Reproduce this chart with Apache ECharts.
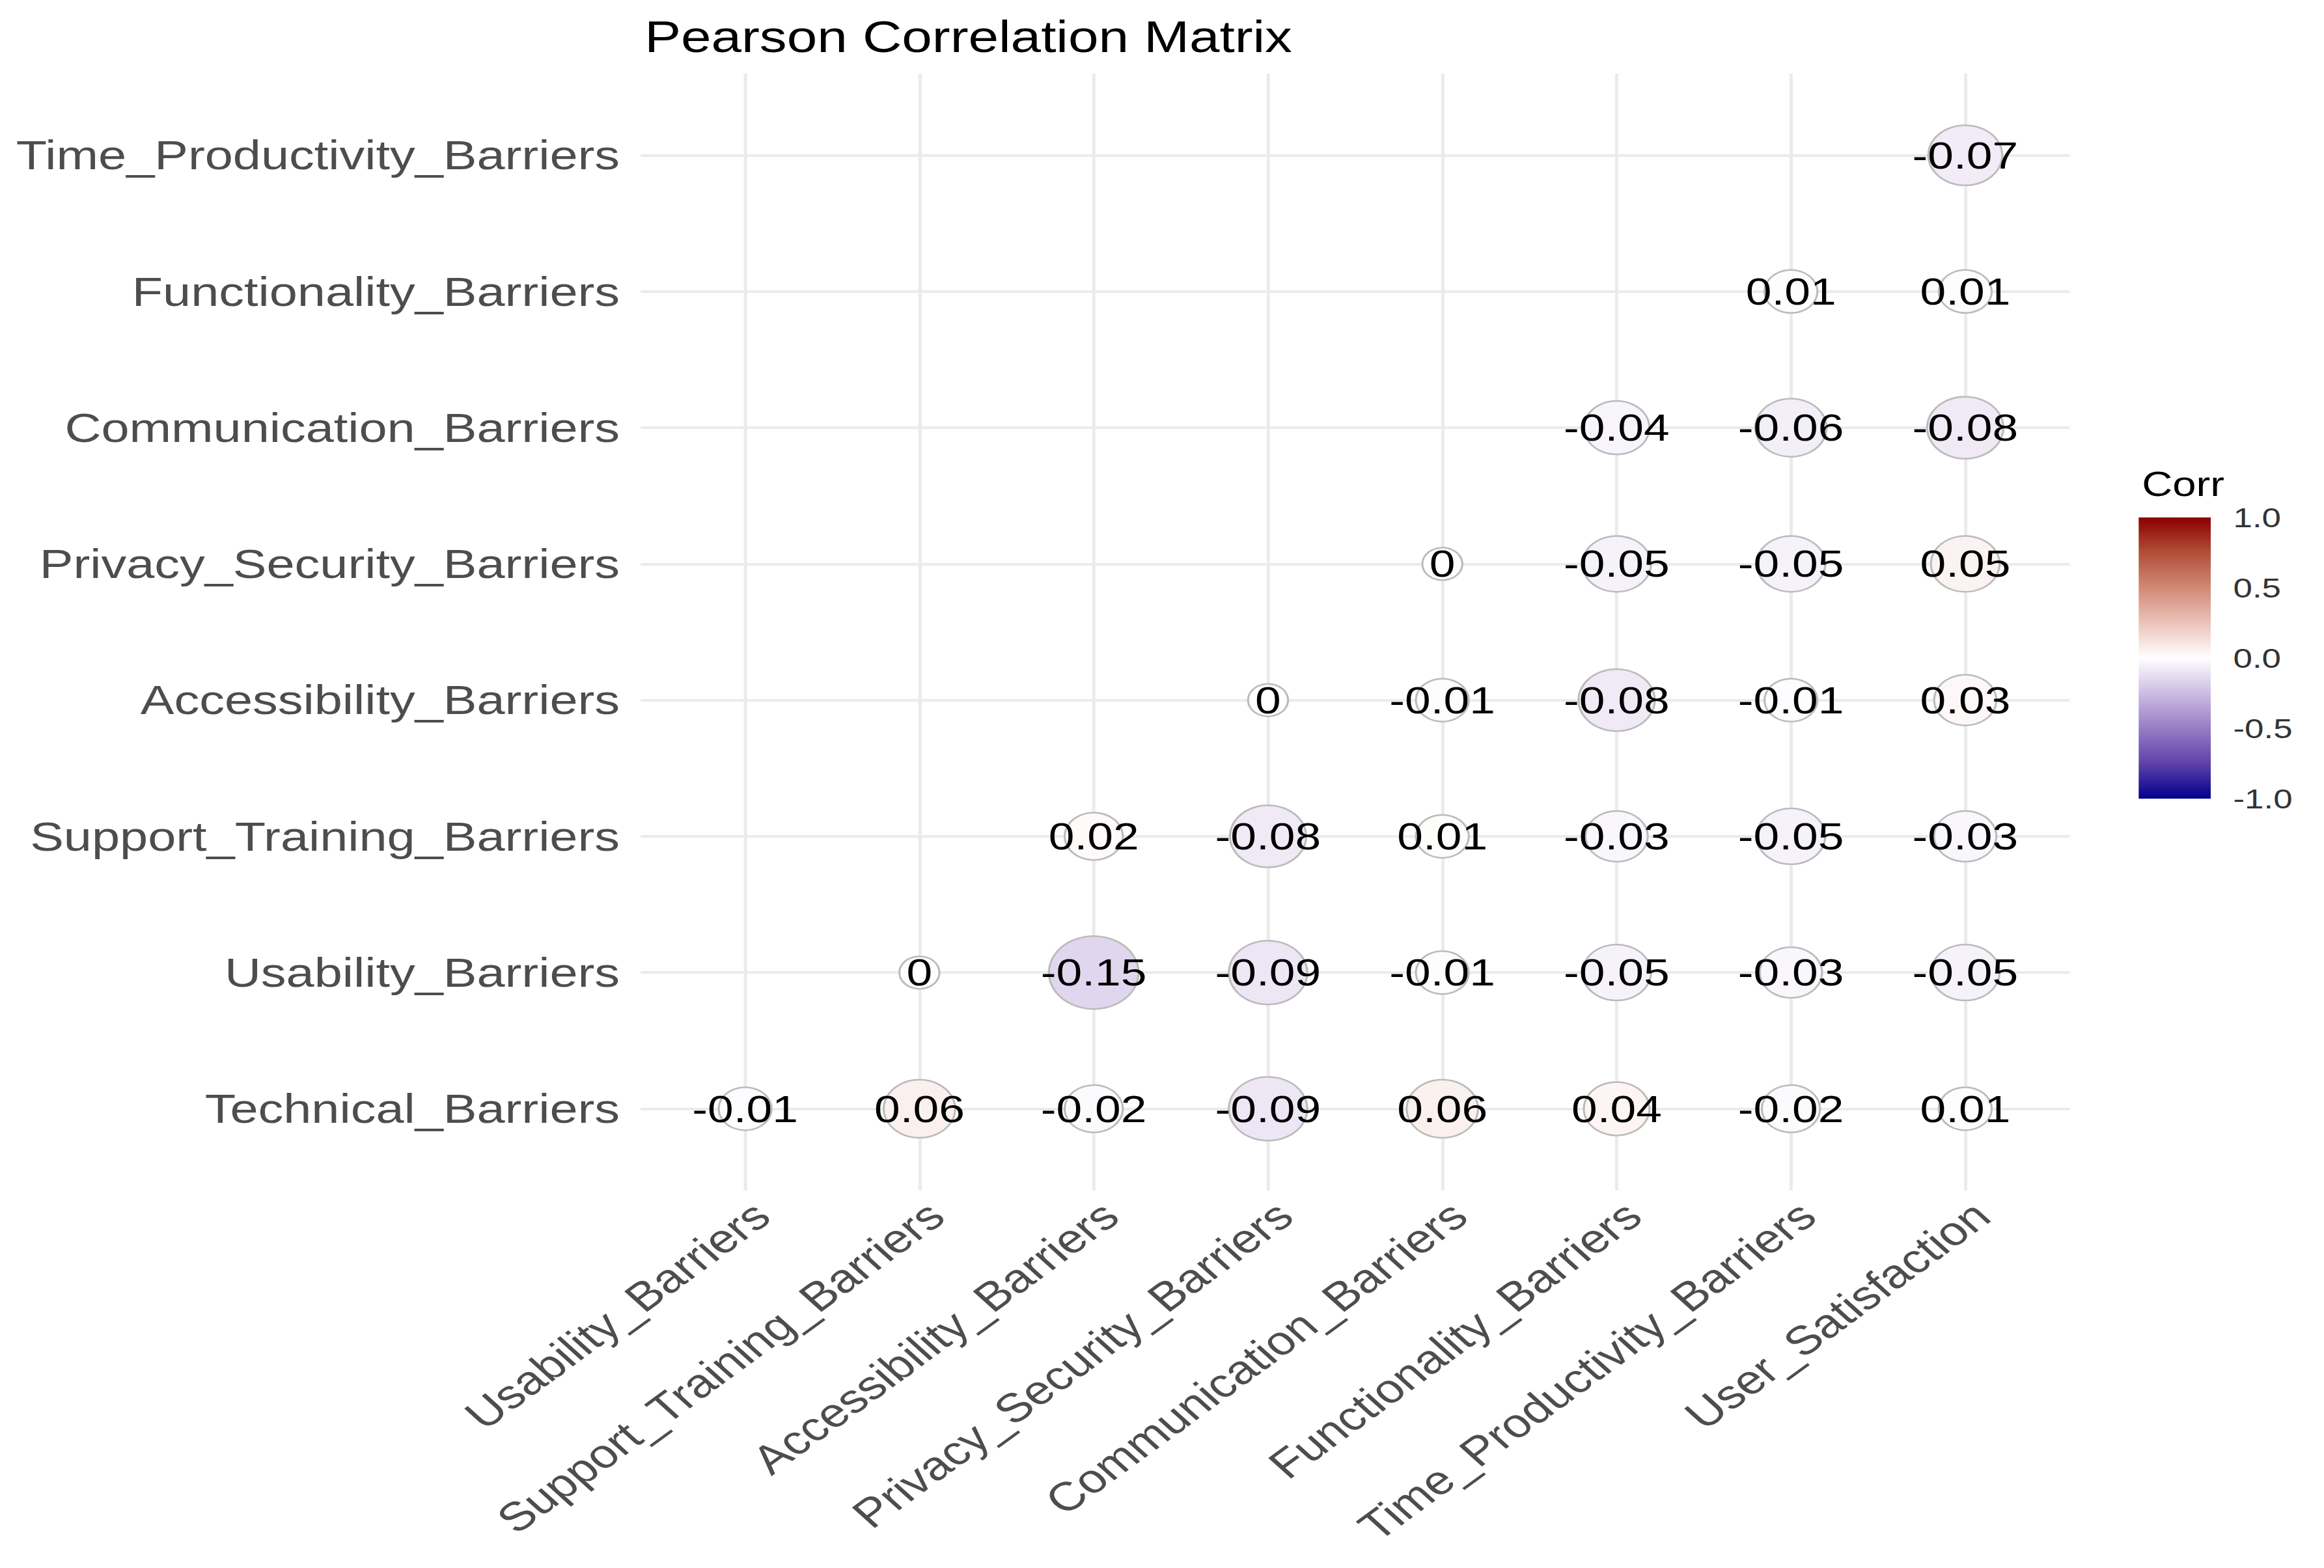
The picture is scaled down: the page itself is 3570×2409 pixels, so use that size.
<!DOCTYPE html>
<html>
<head>
<meta charset="utf-8">
<script src="https://cdn.jsdelivr.net/npm/echarts@6/dist/echarts.min.js"></script>
<style>
  html, body { margin: 0; padding: 0; background: #fff; overflow: hidden; }
  /* the reference is stretched sideways, so the chart is drawn narrow and widened */
  .container {
    width: 2902px;
    height: 2409px;
    transform: scaleX(1.23);
    transform-origin: 0 0;
  }
</style>
</head>
<body>
<div class="container"></div>
<script>
const xCategories = ['Usability_Barriers', 'Support_Training_Barriers', 'Accessibility_Barriers',
    'Privacy_Security_Barriers', 'Communication_Barriers', 'Functionality_Barriers',
    'Time_Productivity_Barriers', 'User_Satisfaction'];
const yCategories = ['Technical_Barriers', 'Usability_Barriers', 'Support_Training_Barriers',
    'Accessibility_Barriers', 'Privacy_Security_Barriers', 'Communication_Barriers',
    'Functionality_Barriers', 'Time_Productivity_Barriers'];

// one row per y category, one value per x category (null = empty cell)
const corrTechnical     = [-0.01, 0.06, -0.02, -0.09, 0.06, 0.04, -0.02, 0.01];
const corrUsability     = [null, 0, -0.15, -0.09, -0.01, -0.05, -0.03, -0.05];
const corrSupport       = [null, null, 0.02, -0.08, 0.01, -0.03, -0.05, -0.03];
const corrAccessibility = [null, null, null, 0, -0.01, -0.08, -0.01, 0.03];
const corrPrivacy       = [null, null, null, null, 0, -0.05, -0.05, 0.05];
const corrCommunication = [null, null, null, null, null, -0.04, -0.06, -0.08];
const corrFunctionality = [null, null, null, null, null, null, 0.01, 0.01];
const corrTime          = [null, null, null, null, null, null, null, -0.07];

const legendTicks = [-1, -0.5, 0, 0.5, 1];
const colorValues = [-1, -0.75, -0.5, -0.25, 0, 0.25, 0.5, 0.75, 1];
const colorList = ['#00008B', '#5F41A9', '#977DC6', '#CCBCE3', '#FFFFFF', '#EBC3B9', '#D18976', '#B14F39', '#8B0000'];

(function () {
    const rows = [corrTechnical, corrUsability, corrSupport, corrAccessibility,
        corrPrivacy, corrCommunication, corrFunctionality, corrTime];
    const font = "'Liberation Sans', Arial, Helvetica, sans-serif";

    const cells = [];
    rows.forEach(function (row, j) {
        row.forEach(function (v, i) {
            if (v !== null) cells.push([i, j, v]);
        });
    });
    const maxAbs = Math.max.apply(null, cells.map(function (c) { return Math.abs(c[2]); }));

    const gradientStops = colorValues.map(function (v, k) {
        return { offset: (1 - v) / 2, color: colorList[k] };
    }).reverse();

    let myChart = echarts.init(document.querySelector('.container'), null, { renderer: 'svg' });

    const option = {
        animation: false,
        backgroundColor: '#fff',
        title: [
            {
                text: 'Pearson Correlation Matrix',
                left: 800,
                top: 17,
                textStyle: { fontFamily: font, fontSize: 68, fontWeight: 'normal', color: '#000' }
            },
            {
                text: 'Corr',
                left: 2670,
                top: 712,
                textStyle: { fontFamily: font, fontSize: 53, fontWeight: 'normal', color: '#000' }
            }
        ],
        grid: [
            { left: 800, right: 317, top: 113, bottom: 580, outerBoundsMode: 'none' },
            { left: 2671, width: 90, top: 795, height: 432, outerBoundsMode: 'none' }
        ],
        xAxis: [
            {
                type: 'value',
                gridIndex: 0,
                min: -0.6,
                max: 7.6,
                axisLine: { show: false },
                axisTick: { show: false },
                splitLine: { show: false },
                axisLabel: {
                    customValues: xCategories.map(function (c, i) { return i; }),
                    formatter: function (v) { return xCategories[Math.round(v)]; },
                    rotate: 42,
                    verticalAlign: 'top',
                    margin: 6,
                    fontFamily: font,
                    fontSize: 62,
                    color: '#4D4D4D'
                }
            },
            {
                type: 'category',
                gridIndex: 1,
                data: ['Corr'],
                show: false
            }
        ],
        yAxis: [
            {
                type: 'value',
                gridIndex: 0,
                min: -0.6,
                max: 7.6,
                axisLine: { show: false },
                axisTick: { show: false },
                splitLine: { show: false },
                axisLabel: {
                    customValues: yCategories.map(function (c, i) { return i; }),
                    formatter: function (v) { return yCategories[Math.round(v)]; },
                    margin: 26,
                    fontFamily: font,
                    fontSize: 63,
                    color: '#4D4D4D'
                }
            },
            {
                type: 'value',
                gridIndex: 1,
                position: 'right',
                min: -1,
                max: 1,
                interval: 0.5,
                axisLine: { show: false },
                splitLine: { show: false },
                axisTick: { show: true, inside: true, length: 18, lineStyle: { color: '#fff', width: 3 } },
                axisLabel: {
                    formatter: function (v) { return v.toFixed(1); },
                    margin: 28,
                    fontFamily: font,
                    fontSize: 43,
                    color: '#333'
                }
            },
            {
                type: 'value',
                gridIndex: 1,
                position: 'left',
                min: -1,
                max: 1,
                interval: 0.5,
                axisLine: { show: false },
                splitLine: { show: false },
                axisLabel: { show: false },
                axisTick: { show: true, inside: true, length: 18, lineStyle: { color: '#fff', width: 3 } }
            }
        ],
        visualMap: {
            type: 'continuous',
            show: false,
            min: -1,
            max: 1,
            dimension: 2,
            seriesIndex: 0,
            inRange: { color: colorList }
        },
        series: [
            {
                type: 'scatter',
                xAxisIndex: 0,
                yAxisIndex: 0,
                z: 3,
                data: cells,
                symbol: 'circle',
                symbolSize: function (d) {
                    return 50 + 62 * Math.sqrt(Math.abs(d[2]) / maxAbs);
                },
                itemStyle: { borderColor: '#BBBBBB', borderWidth: 2.5, opacity: 1 },
                label: {
                    show: true,
                    position: 'inside',
                    formatter: function (p) { return String(p.value[2]); },
                    fontFamily: font,
                    fontSize: 58,
                    color: '#000'
                },
                emphasis: { disabled: true },
                markLine: {
                    silent: true,
                    z: 1,
                    symbol: ['none', 'none'],
                    label: { show: false },
                    lineStyle: { color: '#EBEBEB', width: 4, type: 'solid' },
                    emphasis: { disabled: true },
                    data: xCategories.map(function (c, i) { return { xAxis: i }; })
                        .concat(yCategories.map(function (c, j) { return { yAxis: j }; }))
                }
            },
            {
                // colour bar of the legend
                type: 'custom',
                xAxisIndex: 1,
                yAxisIndex: 1,
                z: 1,
                silent: true,
                data: [[0, 0]],
                renderItem: function (params, api) {
                    const top = api.coord([0, legendTicks[legendTicks.length - 1]]);
                    const bottom = api.coord([0, legendTicks[0]]);
                    const w = api.size([1, 0])[0];
                    return {
                        type: 'rect',
                        shape: { x: top[0] - w / 2, y: top[1], width: w, height: bottom[1] - top[1] },
                        style: { fill: new echarts.graphic.LinearGradient(0, 0, 0, 1, gradientStops) }
                    };
                }
            }
        ]
    };

    myChart.setOption(option);
})();
</script>
</body>
</html>
